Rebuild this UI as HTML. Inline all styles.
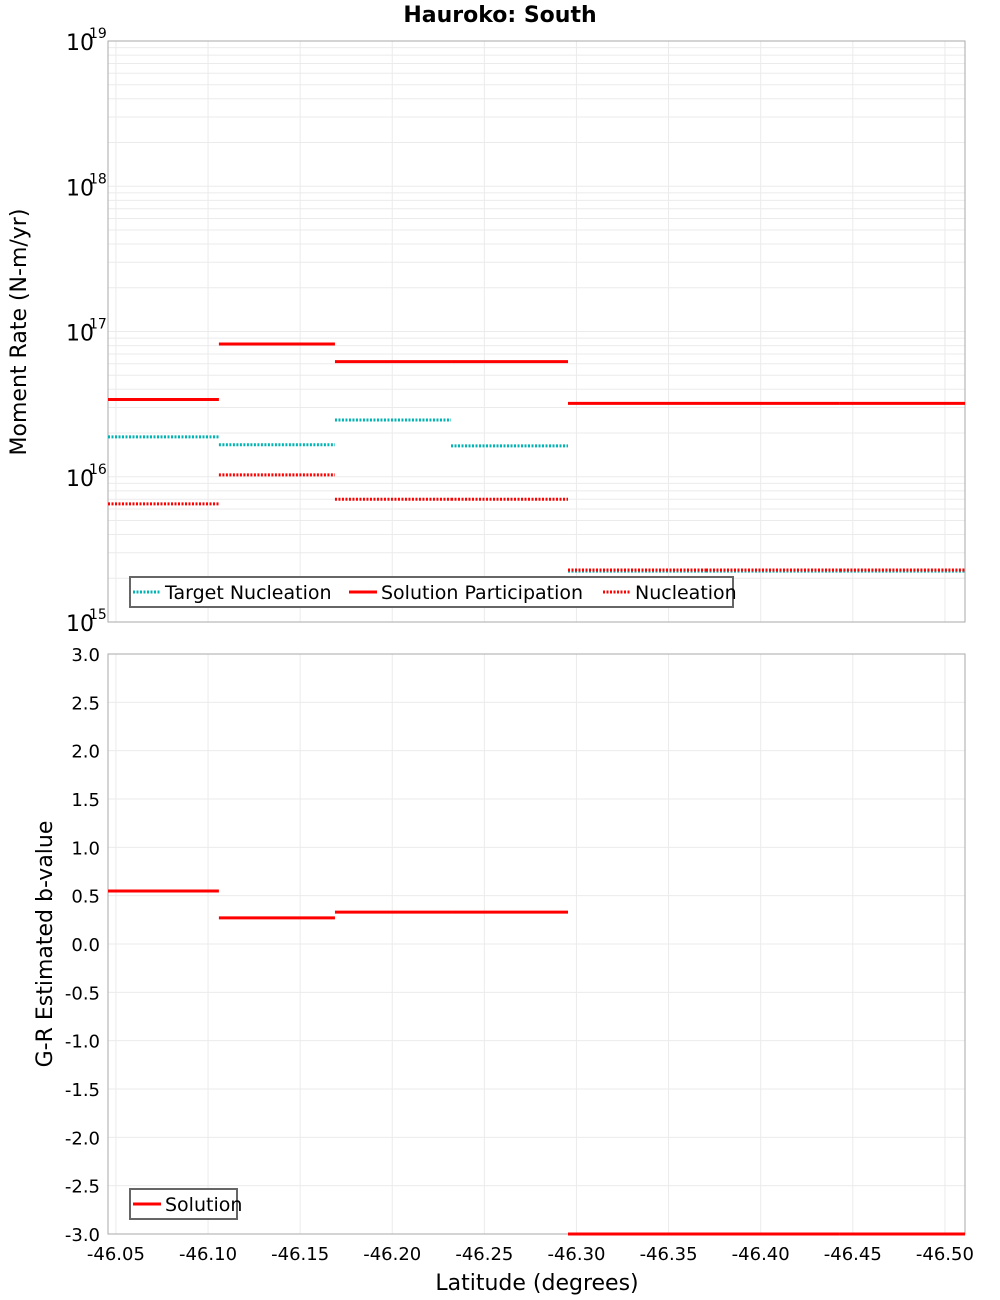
<!DOCTYPE html>
<html><head><meta charset="utf-8"><style>
body{margin:0;background:#fff}
svg{display:block;font-family:"DejaVu Sans","Liberation Sans",sans-serif}
</style></head><body>
<svg id="c" width="1000" height="1300"></svg>
<script>
const segEdges=[-46.0457,-46.1059,-46.1689,-46.2319,-46.2954,-46.3703,-46.443,-46.5109];
const participation=[3.4e16,8.2e16,6.2e16,6.2e16,3.2e16,3.2e16,3.2e16];
const targetNucl=[1.88e16,1.66e16,2.46e16,1.63e16,2.24e15,2.24e15,2.24e15];
const nucleation=[6.5e15,1.03e16,7.0e15,7.0e15,2.28e15,2.28e15,2.28e15];
const bValues=[0.548,0.27,0.33,0.33,-3,-3,-3];
const xTicks=[-46.05,-46.10,-46.15,-46.20,-46.25,-46.30,-46.35,-46.40,-46.45,-46.50];
const logTicks=[15,16,17,18,19];
const bTicks=[-3,-2.5,-2,-1.5,-1,-0.5,0,0.5,1,1.5,2,2.5,3];

const NS="http://www.w3.org/2000/svg",svg=document.getElementById('c');
const L=108,R=965,T1=41,B1=622,T2=654,B2=1234;
const X=v=>L+(segEdges[0]-v)/(segEdges[0]-segEdges[segEdges.length-1])*(R-L);
const Y1=v=>B1-(Math.log10(v)-15)/4*(B1-T1);
const Y2=v=>B2-(v+3)/6*(B2-T2);
function el(t,a,p){const e=document.createElementNS(NS,t);for(const k in a)e.setAttribute(k,a[k]);(p||svg).appendChild(e);return e;}
function txt(s,a,p){const e=el('text',a,p);e.textContent=s;return e;}

// grids
for(let d=15;d<19;d++)for(let m=1;m<10;m++){const y=Y1(m*Math.pow(10,d));
 const g=el('line',{x1:L,x2:R,y1:y,y2:y,stroke:'#ebebeb','stroke-width':1});
 
 }
for(const v of bTicks){const y=Y2(v);
 const g=el('line',{x1:L,x2:R,y1:y,y2:y,stroke:'#ebebeb','stroke-width':1});
 
 }
for(const v of xTicks){const x=X(v);
 for(const [a,b] of [[T1,B1],[T2,B2]]){const g=el('line',{x1:x,x2:x,y1:a,y2:b,stroke:'#ebebeb','stroke-width':1});
 
 }}
// frames
const f1=el('rect',{x:L,y:T1,width:R-L,height:B1-T1,fill:'none',stroke:'#aaa'});


const f2=el('rect',{x:L,y:T2,width:R-L,height:B2-T2,fill:'none',stroke:'#aaa'});



// series
function series(vals,yf,color,dash,name){
 for(let i=0;i<vals.length;i++){
  const y=yf(vals[i]);
  const l=el('line',{x1:X(segEdges[i]),x2:X(segEdges[i+1]),y1:y,y2:y,stroke:color,'stroke-width':3});
  if(dash)l.setAttribute('stroke-dasharray',dash);
  
  
 }}
series(participation,Y1,'#f00',null,'solution-participation-segment');
series(targetNucl,Y1,'#00b4b4','2 1.5','target-nucleation-segment');
series(nucleation,Y1,'#f00','2 1.5','nucleation-segment');
series(bValues,Y2,'#f00',null,'solution-b-value-segment');

// y tick labels top
for(const d of logTicks){const y=Y1(Math.pow(10,d));
 const t=txt('10',{x:94,y:y+9,'font-size':22,'text-anchor':'end'});
 
 
 const e=txt(String(d),{x:89,y:y-3,'font-size':14});
 
 }
for(const v of bTicks){
 const t=txt(v.toFixed(1),{x:100,y:Y2(v)+7,'font-size':18,'text-anchor':'end'});
 
 }
for(const v of xTicks){
 const t=txt(v.toFixed(2),{x:X(v),y:1260,'font-size':18,'text-anchor':'middle'});
 
 }

// titles
const ti=txt('Hauroko: South',{x:500,y:22,'font-size':22,'font-weight':'bold','text-anchor':'middle'});

const yt1=txt('Moment Rate (N-m/yr)',{x:0,y:0,'font-size':22,'text-anchor':'middle',transform:'translate(26,332) rotate(-90)'});

const yt2=txt('G-R Estimated b-value',{x:0,y:0,'font-size':22,'text-anchor':'middle',transform:'translate(52,944) rotate(-90)'});

const xt=txt('Latitude (degrees)',{x:537,y:1290,'font-size':22,'text-anchor':'middle'});


// legends
function legend(x,y,w,items,name){
 const g=el('g',{});
 
 
 el('rect',{x:x,y:y,width:w,height:30,fill:'#fff',stroke:'#666','stroke-width':2},g);
 let cx=x+3;
 for(const it of items){
  const l=el('line',{x1:cx,x2:cx+28,y1:y+15,y2:y+15,stroke:it.c,'stroke-width':3},g);
  if(it.d)l.setAttribute('stroke-dasharray',it.d);
  const t=txt(it.t,{x:cx+32,y:y+22,'font-size':19},g);
  
  
  cx+=32+it.w;
 }}
legend(130,577,603,[{t:'Target Nucleation',c:'#00b4b4',d:'2 1.5',w:184},{t:'Solution Participation',c:'#f00',w:222},{t:'Nucleation',c:'#f00',d:'2 1.5',w:110}],'legend-top');
legend(130,1189,107,[{t:'Solution',c:'#f00',w:80}],'legend-bottom');
</script>
</body></html>
